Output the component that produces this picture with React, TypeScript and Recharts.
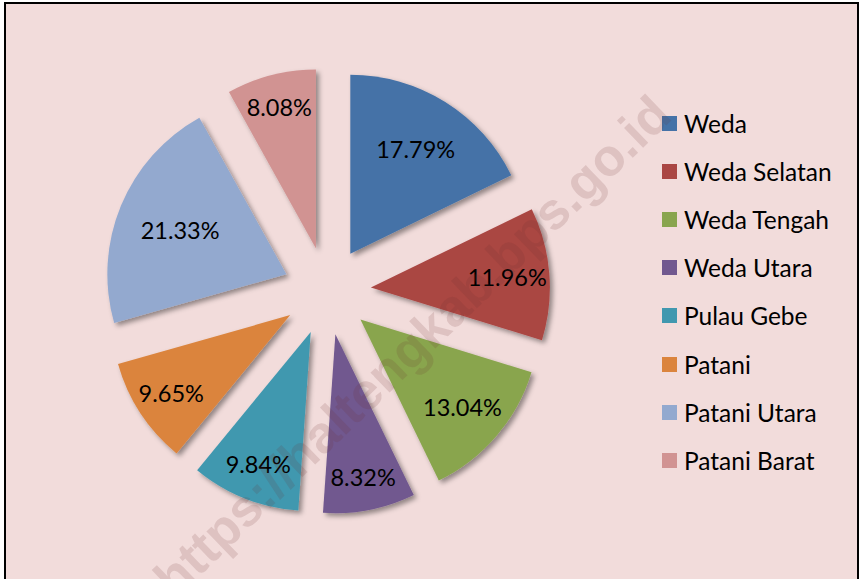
import React from "react";
import { PieChart, Pie, Cell, Legend, Sector } from "recharts";

// kecamatan shares (%)
const districts = [
  "Weda",
  "Weda Selatan",
  "Weda Tengah",
  "Weda Utara",
  "Pulau Gebe",
  "Patani",
  "Patani Utara",
  "Patani Barat",
];
const shares = [17.79, 11.96, 13.04, 8.32, 9.84, 9.65, 21.33, 8.08];
const COLORS = [
  "#4572a7",
  "#aa4643",
  "#89a54e",
  "#71588f",
  "#4198af",
  "#db843d",
  "#93a9cf",
  "#d19392",
];

const data = districts.map((name, i) => ({ name, value: shares[i] }));

const RADIAN = Math.PI / 180;
const EXPLODE = 44;
const FONT = "Lato, 'Open Sans', sans-serif";

const renderSlice = (props: any) => {
  const { cx, cy, midAngle, innerRadius, outerRadius, startAngle, endAngle, fill } = props;
  const dx = EXPLODE * Math.cos(-midAngle * RADIAN);
  const dy = EXPLODE * Math.sin(-midAngle * RADIAN);
  return (
    <Sector
      cx={cx + dx}
      cy={cy + dy}
      innerRadius={innerRadius}
      outerRadius={outerRadius}
      startAngle={startAngle}
      endAngle={endAngle}
      fill={fill}
      filter="url(#sliceShadow)"
    />
  );
};

const renderLabel = (props: any) => {
  const { cx, cy, midAngle, outerRadius, value, percent } = props;
  // narrow slices push their label further out, like Excel does
  const dist = EXPLODE + outerRadius * (0.92 - 1.3 * percent);
  const x = cx + dist * Math.cos(-midAngle * RADIAN);
  const y = cy + dist * Math.sin(-midAngle * RADIAN);
  return (
    <text
      x={x}
      y={y}
      textAnchor="middle"
      dominantBaseline="central"
      fill="#000"
      fontFamily={FONT}
      fontSize={23.5}
    >
      {`${value.toFixed(2)}%`}
    </text>
  );
};

const renderLegend = (props: any) => {
  // keep the legend in data order, not alphabetical
  const payload = [...(props.payload || [])].sort(
    (a: any, b: any) => districts.indexOf(a.value) - districts.indexOf(b.value)
  );
  return (
    <div style={{ fontFamily: FONT, fontSize: 24.5, color: "#000" }}>
      {payload.map((entry: any) => (
        <div
          key={entry.value}
          style={{ display: "flex", alignItems: "center", height: 48.2 }}
        >
          <span
            style={{
              display: "inline-block",
              width: 15,
              height: 15,
              background: entry.color,
              marginRight: 7,
            }}
          />
          <span>{entry.value}</span>
        </div>
      ))}
    </div>
  );
};

export default function App() {
  return (
    <div
      style={{
        position: "absolute",
        left: 0,
        top: 0,
        width: 859,
        height: 579,
        overflow: "hidden",
        background: "#fff",
      }}
    >
      <div
        style={{
          position: "absolute",
          left: 4,
          top: 2,
          width: 851,
          height: 620,
          border: "2px solid #000",
          background: "#f2dcdb",
        }}
      />
      <div style={{ position: "absolute", left: 0, top: 0 }}>
        <PieChart width={859} height={579}>
          <defs>
            <filter id="sliceShadow" x="-20%" y="-20%" width="140%" height="140%">
              <feDropShadow dx="3" dy="3" stdDeviation="2.5" floodColor="#000" floodOpacity="0.4" />
            </filter>
          </defs>
          <Pie
            data={data}
            dataKey="value"
            nameKey="name"
            cx={322}
            cy={286}
            outerRadius={179}
            startAngle={90}
            endAngle={-270}
            stroke="none"
            shape={renderSlice}
            label={renderLabel}
            labelLine={false}
            isAnimationActive={false}
          >
            {data.map((entry, index) => (
              <Cell key={`cell-${entry.name}`} fill={COLORS[index % COLORS.length]} />
            ))}
          </Pie>
          <Legend
            layout="vertical"
            content={renderLegend}
            wrapperStyle={{ left: 662, top: 99, width: 190 }}
          />
        </PieChart>
      </div>
      <svg
        width={859}
        height={579}
        style={{ position: "absolute", left: 0, top: 0, pointerEvents: "none" }}
      >
        <text
          x={412}
          y={346}
          textAnchor="middle"
          dominantBaseline="central"
          transform="rotate(-44 412 346)"
          fontFamily="'Liberation Sans', Arial, sans-serif"
          fontWeight="bold"
          fontSize={52}
          fill="rgba(110,50,50,0.15)"
        >
          https://haltengkab.bps.go.id
        </text>
      </svg>
    </div>
  );
}
